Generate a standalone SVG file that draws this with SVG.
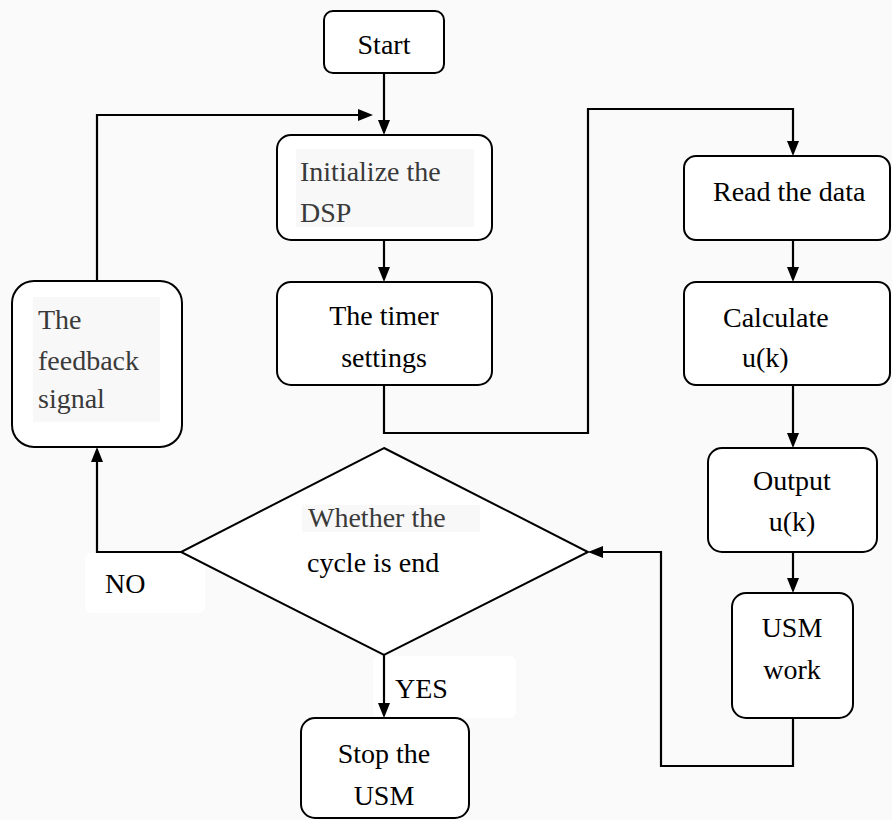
<svg xmlns="http://www.w3.org/2000/svg" width="892" height="820" viewBox="0 0 892 820">
<style>
.box{fill:#ffffff;stroke:#000;stroke-width:2}
.ln{fill:none;stroke:#000;stroke-width:2.2}
.ah{fill:#000;stroke:none}
.tb{fill:#f8f8f8}
.wb{fill:#ffffff}
text{font-family:Liberation Serif, Times New Roman, Tinos, DejaVu Serif, serif;font-size:28px;fill:#000}
.g{fill:#3a3a3a}
.c{text-anchor:middle}
</style>
<rect width="892" height="820" fill="#fafafa"/>
<g id="no-label">
<rect class="wb" x="85" y="553" width="120" height="60" rx="6"/>
<text x="105" y="593">NO</text>
</g>
<g id="yes-label">
<rect class="wb" x="373" y="656" width="143" height="62" rx="6"/>
<text x="395" y="698">YES</text>
</g>
<g id="connectors">
<line class="ln" x1="384" y1="73" x2="384" y2="122"/>
<polygon class="ah" points="378,120 390,120 384,135"/>
<polyline class="ln" points="97,281 97,115 360,115"/>
<polygon class="ah" points="358,109 358,121 373,115"/>
<line class="ln" x1="384" y1="240" x2="384" y2="269"/>
<polygon class="ah" points="378,267 390,267 384,282"/>
<polyline class="ln" points="384,385 384,433 588,433 588,109 793,109 793,143"/>
<polygon class="ah" points="787,141 799,141 793,156"/>
<line class="ln" x1="793" y1="240" x2="793" y2="269"/>
<polygon class="ah" points="787,267 799,267 793,282"/>
<line class="ln" x1="793" y1="385" x2="793" y2="435"/>
<polygon class="ah" points="787,433 799,433 793,448"/>
<line class="ln" x1="793" y1="552" x2="793" y2="580"/>
<polygon class="ah" points="787,578 799,578 793,593"/>
<polyline class="ln" points="793,718 793,766 661,766 661,552 600,552"/>
<polygon class="ah" points="603,546 603,558 588,552"/>
<polyline class="ln" points="181,552 97,552 97,460"/>
<polygon class="ah" points="91,462 103,462 97,447"/>
<line class="ln" x1="384" y1="655" x2="384" y2="705"/>
<polygon class="ah" points="378,703 390,703 384,718"/>
</g>
<g id="start">
<rect class="box" x="324" y="11" width="120" height="62" rx="9"/>
<text class="c" x="384" y="54">Start</text>
</g>
<g id="init">
<rect class="box" x="277" y="135" width="215" height="105" rx="14"/>
<rect class="tb" x="296" y="149" width="178" height="78"/>
<text class="g" x="300" y="181">Initialize the</text>
<text class="g" x="300" y="222">DSP</text>
</g>
<g id="timer">
<rect class="box" x="277" y="282" width="215" height="103" rx="14"/>
<text class="c" x="384" y="325">The timer</text>
<text class="c" x="384" y="367">settings</text>
</g>
<g id="read">
<rect class="box" x="684" y="156" width="206" height="84" rx="12"/>
<text x="713" y="201">Read the data</text>
</g>
<g id="calc">
<rect class="box" x="684" y="282" width="206" height="103" rx="12"/>
<text x="723" y="327">Calculate</text>
<text x="742" y="367">u(k)</text>
</g>
<g id="output">
<rect class="box" x="708" y="448" width="169" height="104" rx="14"/>
<text class="c" x="792" y="490">Output</text>
<text class="c" x="792" y="531">u(k)</text>
</g>
<g id="usm">
<rect class="box" x="732" y="593" width="121" height="125" rx="14"/>
<text class="c" x="792" y="637">USM</text>
<text class="c" x="792" y="679">work</text>
</g>
<g id="feedback">
<rect class="box" x="12" y="281" width="170" height="166" rx="22"/>
<rect class="tb" x="33" y="297" width="127" height="125"/>
<text class="g" x="38" y="329">The</text>
<text class="g" x="38" y="370">feedback</text>
<text class="g" x="38" y="408">signal</text>
</g>
<g id="decision">
<polygon class="box" points="384,448 588,552 384,655 181,552"/>
<rect class="tb" x="302" y="505" width="178" height="27"/>
<text class="g" x="308" y="527">Whether the</text>
<text x="307" y="572">cycle is end</text>
</g>
<g id="stop">
<rect class="box" x="301" y="718" width="168" height="100" rx="14"/>
<text class="c" x="384" y="763">Stop the</text>
<text class="c" x="384" y="805">USM</text>
</g>
</svg>
